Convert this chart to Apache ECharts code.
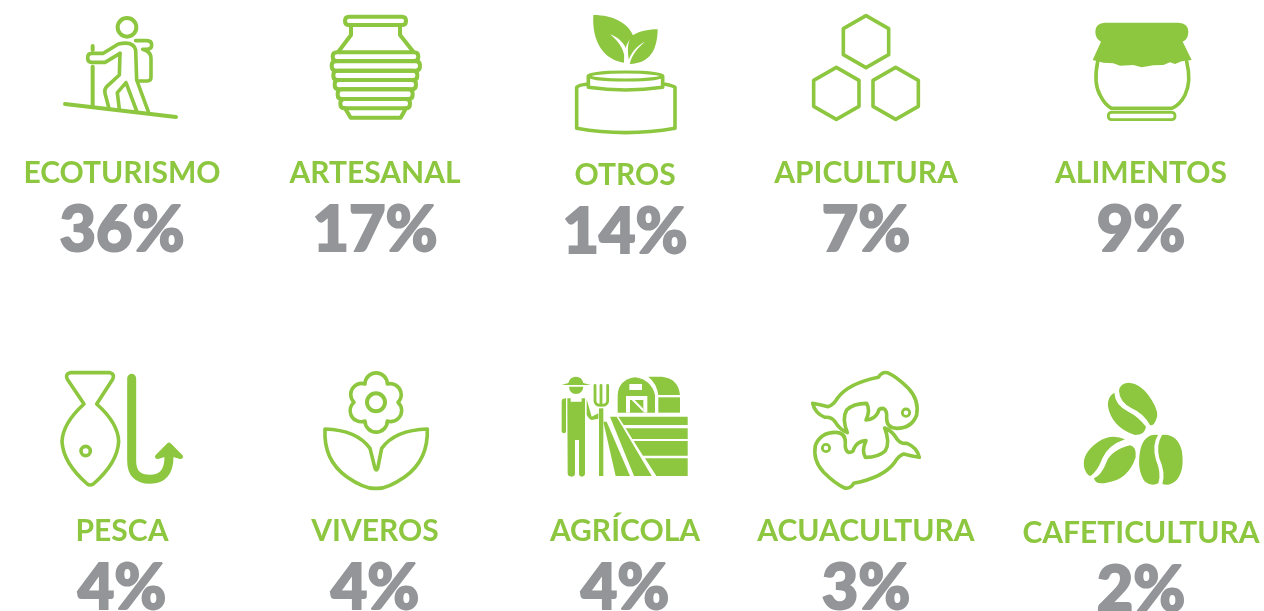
<!DOCTYPE html>
<html>
<head>
<meta charset="utf-8">
<style>
  html, body { margin: 0; padding: 0; background: #fff; overflow: hidden; }
  #chart { width: 1264px; height: 611px; }
</style>
<script src="https://cdn.jsdelivr.net/npm/echarts@6/dist/echarts.min.js"></script>
</head>
<body>
<div id="chart"></div>
<script>
// chart values
const categories = ["ECOTURISMO", "ARTESANAL", "OTROS", "APICULTURA", "ALIMENTOS", "PESCA", "VIVEROS", "AGRÍCOLA", "ACUACULTURA", "CAFETICULTURA"];
const shares = [36, 17, 14, 7, 9, 4, 4, 4, 3, 2];

// layout, in page pixels
const centerX = [122, 375, 625, 866, 1141, 122, 375, 625, 866, 1141];
const nameY = [173, 173, 175, 173, 173, 531, 531, 531, 531, 533];
const shareY = [231, 231, 233, 231, 231, 589, 589, 589, 589, 591];
const iconX = [40, 40, 550, 550, 1070, 40, 40, 550, 550, 1070];
const iconY = [0, 0, 0, 0, 0, 360, 360, 360, 360, 370];

const GREEN = "#8dc63f";
const GRAY = "#939598";

// helpers for the icon outlines
function rr(x, y, w, h, r) {
  return `M${x + r},${y} L${x + w - r},${y} Q${x + w},${y} ${x + w},${y + r} L${x + w},${y + h - r} Q${x + w},${y + h} ${x + w - r},${y + h} L${x + r},${y + h} Q${x},${y + h} ${x},${y + h - r} L${x},${y + r} Q${x},${y} ${x + r},${y} Z`;
}
function circle(cx, cy, r) {
  return `M${cx - r},${cy} A${r},${r} 0 1 1 ${cx + r},${cy} A${r},${r} 0 1 1 ${cx - r},${cy} Z`;
}
function hex(cx, cy) {
  return `M${cx},${cy - 78} L${cx + 68},${cy - 39} L${cx + 68},${cy + 39} L${cx},${cy + 78} L${cx - 68},${cy + 39} L${cx - 68},${cy - 39} Z`;
}
const line = (d, w) => ({ d, w: (w || 9) * 1.2 });
const fill = (d) => ({ d, fill: GREEN });
const white = (d) => ({ d, fill: "#fff" });

const koi = "M788,130 Q815,135 835,140 Q850,135 862,115 Q895,70 985,52 Q995,35 1012,38 Q1040,50 1075,85 Q1108,120 1100,165 Q1085,205 1040,205 Q1010,205 1010,175 Q1012,150 1000,145 Q985,145 985,155 Q975,178 948,180 Q962,150 950,130 Q910,130 890,150 Q875,175 892,218 Q870,210 855,185 Q845,170 825,172 Q795,160 788,130 Z";

// icons are traced at 3x, so the renderer scales them down by a third
const icons = [
  [ // hiker
    line(circle(261, 82, 28), 10),
    line("M75,312 L408,351", 10),
    line("M158,138 L158,150", 10),
    line("M158,200 L158,318", 10),
    line("M240,160 L195,187 L155,187 Q143,187 143,174 Q143,160 155,160 L190,160 L235,132 Q280,122 287,150 L290,240 L325,335", 9),
    line("M240,160 L238,225 L200,260 Q192,268 195,280 L207,325", 9),
    line("M258,248 L232,278 L238,328 M258,248 L290,333", 9),
    line("M287,122 L320,122 Q335,122 335,135 Q335,148 320,148 L308,148 Q333,155 333,175 L333,232 Q333,243 322,243 L292,243", 9)
  ],
  [ // clay pot
    line(rr(915, 50, 183, 25, 12), 10),
    line("M933,75 L933,105 L895,155 M1080,75 L1080,105 L1120,155", 10),
    line(rr(878, 157, 257, 26, 13), 10),
    line(rr(875, 184, 265, 28, 13), 10),
    line(rr(880, 212, 252, 28, 13), 10),
    line(rr(884, 240, 244, 28, 13), 10),
    line(rr(893, 268, 225, 29, 13), 10),
    line(rr(901, 297, 209, 28, 13), 10),
    line("M915,325 L932,353 L1082,353 L1098,325", 10)
  ],
  [ // leaves over a cream pot
    fill("M130,45 C190,45 235,70 250,108 C235,120 222,140 222,188 C165,180 125,130 130,45 Z"),
    fill("M323,88 C322,150 300,190 240,192 C228,150 235,110 250,105 C270,92 300,88 323,88 Z"),
    white("M180,103 C205,112 225,130 231,155 L229,186 L225,186 C225,160 215,130 180,103 Z"),
    white("M285,125 C262,135 240,160 233,190 L240,190 C245,165 262,145 285,125 Z"),
    line("M115,252 Q85,255 80,262 L80,385 Q226,411 375,385 L375,262 Q365,255 338,252", 9),
    line("M115,228 L115,262 Q226,278 338,262 L338,228", 9),
    { d: "M115,228 A111,12 0 1 1 338,228 A111,12 0 1 1 115,228 Z", w: 9, fillWhite: true }
  ],
  [ // honeycomb
    line(hex(948, 125), 9),
    line(hex(859, 280), 9),
    line(hex(1037, 280), 9)
  ],
  [ // preserve jar
    line("M83,185 Q70,250 90,285 Q105,315 125,325 L305,325 Q330,315 345,285 Q365,245 350,185", 9),
    line(rr(115, 337, 200, 22, 10), 7),
    fill("M105,68 L325,68 Q355,70 355,95 Q355,118 338,125 L365,180 L335,184 L315,192 L300,187 L280,195 L250,196 L215,202 L190,195 L150,197 L130,190 L100,188 L68,180 L93,125 Q76,115 76,95 Q76,70 105,68 Z")
  ],
  [ // fish and hook
    line("M90,38 L210,38 Q225,42 218,58 L170,132 Q235,190 236,245 Q232,310 160,372 Q150,378 142,372 Q70,310 66,245 Q68,190 132,132 L82,58 Q75,42 90,38 Z", 9),
    line(circle(137, 273, 14), 9),
    { d: "M275,55 L275,302 Q275,358 330,358 Q387,358 387,290", w: 27 },
    { d: "M387,255 L352,290 L372,284 L402,284 L422,290 Z", fill: GREEN, w: 14 }
  ],
  [ // flower
    line(circle(1008, 127, 27), 10),
    line("M975,72 A33.5,33.5 0 0 1 1042,72 A33,33 0 0 1 1074,127 A33,33 0 0 1 1042,183 A33.5,33.5 0 0 1 975,183 A33,33 0 0 1 942,127 A33,33 0 0 1 975,72 Z", 9),
    line("M855,207 Q950,210 990,265 L1005,325 Q1008,335 1013,325 L1025,265 Q1065,210 1162,207 Q1165,300 1095,350 Q1040,388 1008,385 Q975,388 920,350 Q850,300 855,207 Z", 9)
  ],
  [ // farmer and barn
    fill("M203,158 L203,105 Q205,60 255,52 Q305,60 315,105 L315,158 Z"),
    white("M238,72 L276,72 L276,90 L238,90 Z"),
    white("M228,108 L292,108 L292,158 L228,158 Z"),
    fill("M240,120 L280,120 L280,158 L240,158 Z"),
    white("M245,120 L254,120 L280,146 L280,155 Z"),
    fill("M295,50 L335,50 Q385,55 390,105 L325,105 Q320,70 295,50 Z"),
    fill("M325,112 L390,112 L390,158 L325,158 Z"),
    fill("M205,170 L413,170 L413,195 L221,195 Z"),
    fill("M227,205 L413,205 L413,237 L247,237 Z"),
    fill("M251,243 L413,243 L413,287 L279,287 Z"),
    fill("M285,295 L413,295 L413,348 L319,348 Z"),
    fill("M180,170 L200,170 L305,348 L252,348 Z"),
    fill("M160,185 L170,185 L240,348 L197,348 Z"),
    fill("M147,145 L160,145 L160,348 L147,348 Z"),
    line("M135,76 L135,122 Q135,136 153,136 Q173,136 173,122 L173,76 M153,76 L153,136", 7),
    fill("M35,75 L122,75 L100,69 Q95,50 78,50 Q60,50 55,69 Z"),
    fill("M57,80 L100,80 Q98,100 78,102 Q58,100 57,80 Z"),
    fill("M52,115 L62,115 L62,125 L95,125 L95,115 L105,115 L105,340 Q105,350 95,350 Q87,350 87,340 L87,240 L75,240 L75,340 Q75,350 65,350 Q53,350 53,340 Z"),
    fill("M35,125 Q35,115 48,115 L48,215 Q42,225 35,215 Z"),
    fill("M110,118 L125,170 L145,160 L145,176 L125,180 Q118,178 110,165 Z")
  ],
  [ // two fish
    line(koi, 9),
    line(circle(1068, 158, 11), 7),
    { d: koi, w: 10.8, flip: true },
    { d: circle(1068, 158, 11), w: 8.4, flip: true }
  ],
  [ // coffee beans
    fill("M133,68 Q135,105 175,125 Q205,140 228,170 Q225,195 195,195 Q135,175 118,125 Q105,85 133,68 Z"),
    fill("M147,62 Q148,95 185,115 Q220,130 240,165 Q250,170 258,150 Q270,130 245,90 Q215,40 175,38 Q150,40 147,62 Z"),
    fill("M165,208 Q125,190 85,215 Q35,250 42,290 Q48,315 62,318 Q85,300 97,265 Q115,225 165,208 Z"),
    fill("M180,226 Q200,230 197,262 Q175,330 110,338 Q75,345 72,325 Q95,315 110,275 Q125,240 180,226 Z"),
    fill("M264,195 Q225,190 212,235 Q198,300 225,335 Q245,350 265,340 Q275,310 258,270 Q245,225 264,195 Z"),
    fill("M276,195 Q320,190 335,240 Q345,300 320,330 Q300,350 277,342 Q288,310 268,265 Q258,225 276,195 Z")
  ]
];

function renderIcon(params, api) {
  const pos = api.coord([api.value(0), api.value(1)]);
  const parts = icons[api.value(2)];
  return {
    type: "group",
    x: pos[0],
    y: pos[1],
    scaleX: 1 / 3,
    scaleY: 1 / 3,
    children: parts.map((p) => {
      const el = {
        type: "path",
        shape: { pathData: p.d },
        style: {
          fill: p.fillWhite ? "#fff" : (p.fill || "none"),
          stroke: p.w ? GREEN : "none",
          lineWidth: p.w || 0,
          lineJoin: "round",
          lineCap: "round"
        }
      };
      if (p.flip) {
        el.rotation = Math.PI;
        el.originX = 948;
        el.originY = 211;
      }
      return el;
    })
  };
}

const myChart = echarts.init(document.getElementById("chart"));
myChart.setOption({
  animation: false,
  grid: { left: 0, right: 0, top: 0, bottom: 0 },
  xAxis: { type: "value", min: 0, max: 1264, show: false },
  yAxis: { type: "value", min: 0, max: 611, inverse: true, show: false },
  series: [
    {
      type: "custom",
      silent: true,
      clip: false,
      renderItem: renderIcon,
      data: categories.map((c, i) => [iconX[i], iconY[i], i])
    },
    {
      type: "scatter",
      silent: true,
      symbolSize: 0,
      itemStyle: { opacity: 1 },
      data: categories.map((c, i) => ({ value: [centerX[i], nameY[i]], name: c })),
      label: {
        show: true,
        position: "inside",
        formatter: "{b}",
        opacity: 1,
        color: GREEN,
        fontFamily: "Lato",
        fontWeight: "bold",
        fontSize: 30
      }
    },
    {
      type: "scatter",
      silent: true,
      symbolSize: 0,
      itemStyle: { opacity: 1 },
      data: shares.map((v, i) => ({ value: [centerX[i], shareY[i]], name: v + "%" })),
      label: {
        show: true,
        position: "inside",
        formatter: "{b}",
        opacity: 1,
        color: GRAY,
        fontFamily: "Lato",
        fontWeight: 900,
        fontSize: 63,
        textBorderColor: GRAY,
        textBorderWidth: 2
      }
    }
  ]
});
</script>
</body>
</html>
